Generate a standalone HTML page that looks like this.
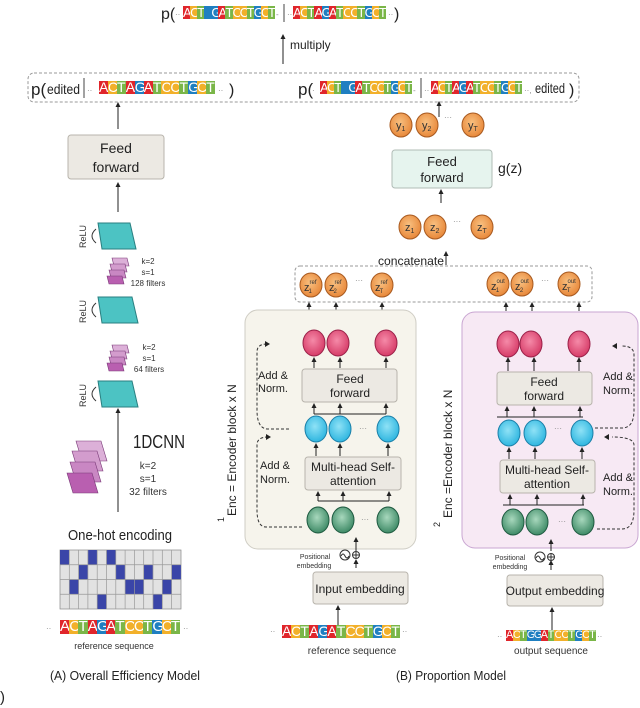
<!DOCTYPE html>
<html><head><meta charset="utf-8"><style>
body{margin:0;background:#fff;}
#w{position:relative;width:640px;height:708px;overflow:hidden;font-family:"Liberation Sans Narrow","Liberation Sans",sans-serif;}
.seq{position:absolute;display:flex;}
.seq span{flex:1;color:#fff;text-align:center;overflow:hidden;font-family:"Liberation Sans Narrow","Liberation Sans",sans-serif;}
.A{background:#e0252b}.C{background:#f2b02a}.T{background:#7ab648}.G{background:#1f7fc1}
svg{position:absolute;left:0;top:0}
</style></head><body><div id="w">
<svg width="640" height="708" viewBox="0 0 640 708" font-family="Liberation Sans Narrow, Liberation Sans, sans-serif">
<defs>
<marker id="ar" markerWidth="6" markerHeight="6" refX="3" refY="3" orient="auto"><path d="M0,0.5 L5,3 L0,5.5 z" fill="#222"/></marker>
<radialGradient id="go" cx="0.45" cy="0.4" r="0.6"><stop offset="0" stop-color="#f8c080"/><stop offset="1" stop-color="#e8883a"/></radialGradient>
<radialGradient id="gr" cx="0.45" cy="0.4" r="0.6"><stop offset="0" stop-color="#f58aa8"/><stop offset="1" stop-color="#d63c68"/></radialGradient>
<radialGradient id="gc" cx="0.45" cy="0.4" r="0.6"><stop offset="0" stop-color="#8fe2f6"/><stop offset="1" stop-color="#2fb6e0"/></radialGradient>
<radialGradient id="gg" cx="0.45" cy="0.4" r="0.6"><stop offset="0" stop-color="#a8d8bd"/><stop offset="1" stop-color="#3e8a66"/></radialGradient>
</defs>
<text x="161" y="19" font-size="16" fill="#222">p(</text>
<text x="175" y="17" font-size="8" fill="#888">··</text>
<line x1="284" y1="4" x2="284" y2="22" stroke="#444"/>
<text x="276" y="17" font-size="8" fill="#888">-</text><text x="287" y="17" font-size="8" fill="#888">··</text>
<text x="388" y="17" font-size="8" fill="#888">··</text>
<text x="394" y="19" font-size="16" fill="#222">)</text>
<line x1="283" y1="64" x2="283" y2="36" stroke="#222" marker-end="url(#ar)"/>
<text x="290" y="49" font-size="12" fill="#222">multiply</text>
<rect x="28" y="73" width="551" height="29" rx="6" fill="none" stroke="#999" stroke-dasharray="3,2"/>
<text x="31" y="95" font-size="17" fill="#222">p(</text>
<text x="47" y="94" font-size="14" fill="#222" textLength="33" lengthAdjust="spacingAndGlyphs">edited</text>
<line x1="84" y1="78" x2="84" y2="98" stroke="#444"/>
<text x="87" y="93" font-size="8" fill="#888">··</text>
<text x="218" y="93" font-size="8" fill="#888">··</text>
<text x="229" y="95" font-size="16" fill="#222">)</text>
<text x="298" y="95" font-size="17" fill="#222">p(</text>
<text x="312" y="93" font-size="8" fill="#888">·</text>
<text x="413" y="93" font-size="8" fill="#888">-</text>
<line x1="421" y1="78" x2="421" y2="98" stroke="#444"/>
<text x="424" y="93" font-size="8" fill="#888">··</text>
<text x="524" y="93" font-size="8" fill="#888">··,</text>
<text x="535" y="93" font-size="14" fill="#222" textLength="30" lengthAdjust="spacingAndGlyphs">edited</text>
<text x="569" y="95" font-size="16" fill="#222">)</text>
<line x1="118" y1="129" x2="118" y2="104" stroke="#222" marker-end="url(#ar)"/>
<rect x="68" y="135" width="96" height="44" rx="3" fill="#ece9e3" stroke="#b8b4ac"/>
<text x="116" y="153" font-size="14" text-anchor="middle" fill="#222">Feed</text>
<text x="116" y="172" font-size="14" text-anchor="middle" fill="#222">forward</text>
<line x1="118" y1="212" x2="118" y2="184" stroke="#222" marker-end="url(#ar)"/>
<polygon points="98,223 130,223 136,249 102,249" fill="#4cc3c3" stroke="#2a7f80"/>
<polygon points="98,297 132,297 138,323 102,323" fill="#4cc3c3" stroke="#2a7f80"/>
<polygon points="98,381 132,381 138,407 102,407" fill="#4cc3c3" stroke="#2a7f80"/>
<g font-size="9" fill="#333">
<text transform="translate(86,248) rotate(-90)">ReLU</text>
<text transform="translate(86,323) rotate(-90)">ReLU</text>
<text transform="translate(86,407) rotate(-90)">ReLU</text>
</g>
<path d="M96,229 Q88,236 96,243" fill="none" stroke="#333"/>
<path d="M96,303 Q88,310 96,317" fill="none" stroke="#333"/>
<path d="M96,387 Q88,394 96,401" fill="none" stroke="#333"/>
<g stroke="#7a3a78" stroke-width="0.6">
<polygon points="112,258 127,258 129,266 114,266" fill="#dcb0d8"/>
<polygon points="110,264 125,264 127,272 112,272" fill="#d39ccd"/>
<polygon points="109,270 124,270 126,278 111,278" fill="#c987c3"/>
<polygon points="107,276 122,276 124,284 109,284" fill="#b95fb0"/>
<polygon points="112,345 127,345 129,353 114,353" fill="#dcb0d8"/>
<polygon points="110,351 125,351 127,359 112,359" fill="#d39ccd"/>
<polygon points="109,357 124,357 126,365 111,365" fill="#c987c3"/>
<polygon points="107,363 122,363 124,371 109,371" fill="#b95fb0"/>
<polygon points="76,441 101,441 107,461 82,461" fill="#dcb0d8"/>
<polygon points="72,451 97,451 103,471 78,471" fill="#d39ccd"/>
<polygon points="70,462 95,462 101,482 76,482" fill="#c987c3"/>
<polygon points="67,473 92,473 98,493 73,493" fill="#b95fb0"/>
</g>
<g font-size="8" fill="#333" text-anchor="middle">
<text x="148" y="264">k=2</text><text x="148" y="275">s=1</text><text x="148" y="286">128 filters</text>
<text x="149" y="350">k=2</text><text x="149" y="361">s=1</text><text x="149" y="372">64 filters</text>
</g>
<line x1="118" y1="512" x2="118" y2="410" stroke="#222" marker-end="url(#ar)"/>
<text x="133" y="448" font-size="18" fill="#222" textLength="52" lengthAdjust="spacingAndGlyphs">1DCNN</text>
<g font-size="10" fill="#333" text-anchor="middle"><text x="148" y="469">k=2</text><text x="148" y="482">s=1</text><text x="148" y="495">32 filters</text></g>
<text x="68" y="540" font-size="15" fill="#222" textLength="104" lengthAdjust="spacingAndGlyphs">One-hot encoding</text>
<rect x="60" y="550" width="121" height="59" fill="#e2e2e2" stroke="#888" stroke-width="0.7"/>
<g fill="#3a45a8">
<rect x="60" y="550" width="9.3" height="14.75"/><rect x="87.9" y="550" width="9.3" height="14.75"/><rect x="106.5" y="550" width="9.3" height="14.75"/>
<rect x="78.6" y="564.75" width="9.3" height="14.75"/><rect x="115.8" y="564.75" width="9.3" height="14.75"/><rect x="143.7" y="564.75" width="9.3" height="14.75"/><rect x="171.6" y="564.75" width="9.3" height="14.75"/>
<rect x="69.3" y="579.5" width="9.3" height="14.75"/><rect x="125.1" y="579.5" width="18.6" height="14.75"/><rect x="162.3" y="579.5" width="9.3" height="14.75"/>
<rect x="97.2" y="594.25" width="9.3" height="14.75"/><rect x="153" y="594.25" width="9.3" height="14.75"/>
</g>
<g stroke="#999" stroke-width="0.7" fill="none">
<path d="M69.3,550V609M78.6,550V609M87.9,550V609M97.2,550V609M106.5,550V609M115.8,550V609M125.1,550V609M134.4,550V609M143.7,550V609M153,550V609M162.3,550V609M171.6,550V609M60,564.75H181M60,579.5H181M60,594.25H181"/>
</g>
<text x="46" y="631" font-size="8" fill="#888">··</text><text x="183" y="631" font-size="8" fill="#888">··</text>
<text x="114" y="649" font-size="9" text-anchor="middle" fill="#333">reference sequence</text>
<text x="50" y="680" font-size="13" fill="#222" textLength="150" lengthAdjust="spacingAndGlyphs">(A) Overall Efficiency Model</text>
<text x="396" y="680" font-size="13" fill="#222" textLength="110" lengthAdjust="spacingAndGlyphs">(B) Proportion Model</text>
<text x="0" y="702" font-size="15" fill="#222">)</text>
<line x1="439" y1="117" x2="439" y2="103" stroke="#222" marker-end="url(#ar)"/>
<g stroke="#a85a20" stroke-width="1" fill="url(#go)">
<ellipse cx="401" cy="125" rx="11" ry="12"/><ellipse cx="427" cy="125" rx="11" ry="12"/><ellipse cx="473" cy="125" rx="11" ry="12"/>
<ellipse cx="410" cy="227" rx="11" ry="12"/><ellipse cx="435" cy="227" rx="11" ry="12"/><ellipse cx="482" cy="227" rx="11" ry="12"/>
<ellipse cx="311" cy="285" rx="11" ry="12"/><ellipse cx="336" cy="285" rx="11" ry="12"/><ellipse cx="382" cy="285" rx="11" ry="12"/>
<ellipse cx="498" cy="284" rx="11" ry="12"/><ellipse cx="522" cy="284" rx="11" ry="12"/><ellipse cx="569" cy="284" rx="11" ry="12"/>
</g>
<g font-size="11" fill="#333">
<text x="396" y="129">y<tspan font-size="7" dy="2">1</tspan></text><text x="422" y="129">y<tspan font-size="7" dy="2">2</tspan></text><text x="468" y="129">y<tspan font-size="7" dy="2">T</tspan></text>
<text x="405" y="231">z<tspan font-size="7" dy="2">1</tspan></text><text x="430" y="231">z<tspan font-size="7" dy="2">2</tspan></text><text x="477" y="231">z<tspan font-size="7" dy="2">T</tspan></text>
<text x="304" y="291">z<tspan font-size="6" dy="-7">ref</tspan><tspan font-size="6" dx="-8" dy="9">1</tspan></text>
<text x="329" y="291">z<tspan font-size="6" dy="-7">ref</tspan><tspan font-size="6" dx="-8" dy="9">2</tspan></text>
<text x="375" y="291">z<tspan font-size="6" dy="-7">ref</tspan><tspan font-size="6" dx="-8" dy="9">T</tspan></text>
<text x="491" y="290">z<tspan font-size="6" dy="-7">out</tspan><tspan font-size="6" dx="-9" dy="9">1</tspan></text>
<text x="515" y="290">z<tspan font-size="6" dy="-7">out</tspan><tspan font-size="6" dx="-9" dy="9">2</tspan></text>
<text x="562" y="290">z<tspan font-size="6" dy="-7">out</tspan><tspan font-size="6" dx="-9" dy="9">T</tspan></text>
</g>
<g font-size="8" fill="#888"><text x="444" y="120">···</text><text x="453" y="224">···</text><text x="355" y="283">···</text><text x="541" y="283">···</text></g>
<line x1="441" y1="203" x2="441" y2="191" stroke="#222" marker-end="url(#ar)"/>
<rect x="392" y="150" width="100" height="38" rx="3" fill="#e6f4ee" stroke="#b0bcb6"/>
<text x="442" y="166" font-size="13" text-anchor="middle" fill="#222">Feed</text>
<text x="442" y="182" font-size="13" text-anchor="middle" fill="#222">forward</text>
<text x="498" y="173" font-size="14" fill="#222">g(z)</text>
<text x="378" y="265" font-size="12" fill="#222" textLength="66" lengthAdjust="spacingAndGlyphs">concatenate</text>
<line x1="446" y1="265" x2="446" y2="253" stroke="#222" marker-end="url(#ar)"/>
<rect x="295" y="266" width="297" height="36" rx="5" fill="none" stroke="#999" stroke-dasharray="3,2"/>
<g stroke="#222" marker-end="url(#ar)">
<line x1="309" y1="311" x2="309" y2="304"/><line x1="336" y1="311" x2="336" y2="304"/><line x1="382" y1="311" x2="382" y2="304"/>
<line x1="506" y1="311" x2="506" y2="304"/><line x1="532" y1="311" x2="532" y2="304"/><line x1="579" y1="311" x2="579" y2="304"/>
</g>
<rect x="245" y="310" width="171" height="239" rx="13" fill="#f6f4ec" stroke="#cfcdc4"/>
<rect x="462" y="312" width="176" height="236" rx="13" fill="#f7e9f4" stroke="#c9a6d2"/>
<g stroke="#222" fill="none">
<line x1="314" y1="414" x2="386" y2="414"/><line x1="318" y1="501" x2="389" y2="501"/>
<line x1="497" y1="417" x2="583" y2="417"/><line x1="503" y1="505" x2="584" y2="505"/>
</g>
<g stroke="#222" marker-end="url(#ar)">
<line x1="314" y1="414" x2="314" y2="405"/><line x1="340" y1="414" x2="340" y2="405"/><line x1="386" y1="414" x2="386" y2="405"/>
<line x1="314" y1="368" x2="314" y2="359"/><line x1="340" y1="368" x2="340" y2="359"/><line x1="386" y1="368" x2="386" y2="359"/>
<line x1="316" y1="456" x2="316" y2="445"/><line x1="340" y1="456" x2="340" y2="445"/><line x1="388" y1="456" x2="388" y2="445"/>
<line x1="318" y1="501" x2="318" y2="493"/><line x1="343" y1="501" x2="343" y2="493"/><line x1="389" y1="501" x2="389" y2="493"/>
<line x1="508" y1="371" x2="508" y2="359"/><line x1="534" y1="371" x2="534" y2="359"/><line x1="579" y1="371" x2="579" y2="359"/>
<line x1="507" y1="417" x2="507" y2="408"/><line x1="534" y1="417" x2="534" y2="408"/><line x1="580" y1="417" x2="580" y2="408"/>
<line x1="509" y1="459" x2="509" y2="449"/><line x1="535" y1="459" x2="535" y2="449"/><line x1="582" y1="459" x2="582" y2="449"/>
<line x1="510" y1="505" x2="510" y2="496"/><line x1="537" y1="505" x2="537" y2="496"/><line x1="583" y1="505" x2="583" y2="496"/>
<line x1="356" y1="551" x2="356" y2="539"/><line x1="356" y1="568" x2="356" y2="561"/>
<line x1="551" y1="551" x2="551" y2="541"/><line x1="551" y1="570" x2="551" y2="562"/>
<line x1="338" y1="625" x2="338" y2="607"/><line x1="552" y1="630" x2="552" y2="609"/>
</g>
<rect x="302" y="369" width="95" height="33" rx="3" fill="#ece9e3" stroke="#b8b4ac"/>
<text x="350" y="383" font-size="12" text-anchor="middle" fill="#222">Feed</text><text x="350" y="397" font-size="12" text-anchor="middle" fill="#222">forward</text>
<rect x="305" y="457" width="96" height="33" rx="3" fill="#ece9e3" stroke="#b8b4ac"/>
<text x="353" y="471" font-size="12" text-anchor="middle" fill="#222">Multi-head Self-</text><text x="353" y="485" font-size="12" text-anchor="middle" fill="#222">attention</text>
<rect x="497" y="372" width="95" height="33" rx="3" fill="#ece9e3" stroke="#b8b4ac"/>
<text x="544" y="386" font-size="12" text-anchor="middle" fill="#222">Feed</text><text x="544" y="400" font-size="12" text-anchor="middle" fill="#222">forward</text>
<rect x="500" y="460" width="95" height="33" rx="3" fill="#ece9e3" stroke="#b8b4ac"/>
<text x="547" y="474" font-size="12" text-anchor="middle" fill="#222">Multi-head Self-</text><text x="547" y="488" font-size="12" text-anchor="middle" fill="#222">attention</text>
<g stroke="#9a2048" fill="url(#gr)">
<ellipse cx="314" cy="343" rx="11" ry="13"/><ellipse cx="338" cy="343" rx="11" ry="13"/><ellipse cx="386" cy="343" rx="11" ry="13"/>
<ellipse cx="508" cy="344" rx="11" ry="13"/><ellipse cx="531" cy="344" rx="11" ry="13"/><ellipse cx="579" cy="344" rx="11" ry="13"/>
</g>
<g stroke="#1a7fa8" fill="url(#gc)">
<ellipse cx="316" cy="429" rx="11" ry="13"/><ellipse cx="340" cy="429" rx="11" ry="13"/><ellipse cx="388" cy="429" rx="11" ry="13"/>
<ellipse cx="509" cy="433" rx="11" ry="13"/><ellipse cx="535" cy="433" rx="11" ry="13"/><ellipse cx="582" cy="433" rx="11" ry="13"/>
</g>
<g stroke="#1e5a40" fill="url(#gg)">
<ellipse cx="318" cy="520" rx="11" ry="13"/><ellipse cx="343" cy="520" rx="11" ry="13"/><ellipse cx="388" cy="520" rx="11" ry="13"/>
<ellipse cx="513" cy="522" rx="11" ry="13"/><ellipse cx="537" cy="522" rx="11" ry="13"/><ellipse cx="583" cy="522" rx="11" ry="13"/>
</g>
<g font-size="8" fill="#888"><text x="359" y="431">···</text><text x="361" y="522">···</text><text x="554" y="431">···</text><text x="558" y="524">···</text></g>
<g stroke="#333" fill="none" stroke-dasharray="3,2">
<path d="M289,429 H268 Q257,429 257,410 V352 Q257,344 267,344"/>
<path d="M302,527 H266 Q257,527 257,510 V445 Q257,437 268,437"/>
<path d="M595,428 H622 Q634,428 634,410 V355 Q634,346 622,346"/>
<path d="M597,529 H622 Q634,529 634,510 V445 Q634,437 612,437"/>
</g>
<g fill="#222"><path d="M270,341 L265,344 L270,347z" transform="rotate(180 267.5 344)"/><path d="M271,434 L266,437 L271,440z" transform="rotate(180 268.5 437)"/><path d="M617,343 L612,346 L617,349z"/><path d="M609,434 L604,437 L609,440z"/></g>
<g font-size="11" fill="#222">
<text x="258" y="379">Add &amp;</text><text x="258" y="392">Norm.</text>
<text x="260" y="469">Add &amp;</text><text x="260" y="483">Norm.</text>
<text x="603" y="380">Add &amp;</text><text x="603" y="394">Norm.</text>
<text x="603" y="481">Add &amp;</text><text x="603" y="495">Norm.</text>
</g>
<text transform="translate(236,516) rotate(-90)" font-size="12" fill="#222" font-family="Liberation Sans, sans-serif">Enc = Encoder block x N</text>
<text transform="translate(224,522) rotate(-90)" font-size="9" fill="#222">1</text>
<text transform="translate(452,518) rotate(-90)" font-size="12" fill="#222" font-family="Liberation Sans, sans-serif">Enc =Encoder block x N</text>
<text transform="translate(440,527) rotate(-90)" font-size="9" fill="#222">2</text>
<g font-size="7" fill="#333" text-anchor="middle"><text x="315" y="559">Positional</text><text x="314" y="568">embedding</text><text x="510" y="560">Positional</text><text x="510" y="569">embedding</text></g>
<g stroke="#333" fill="none"><circle cx="345" cy="555" r="5"/><path d="M341,556 q2,-4 4,0 q2,4 4,0"/><circle cx="356" cy="555" r="3.5"/><path d="M352.5,555h7M356,551.5v7"/>
<circle cx="540" cy="557" r="5"/><path d="M536,558 q2,-4 4,0 q2,4 4,0"/><circle cx="551" cy="557" r="3.5"/><path d="M547.5,557h7M551,553.5v7"/></g>
<rect x="313" y="572" width="95" height="32" rx="3" fill="#ece9e3" stroke="#b8b4ac"/>
<text x="360" y="593" font-size="12" text-anchor="middle" fill="#222">Input embedding</text>
<rect x="507" y="575" width="96" height="31" rx="3" fill="#ece9e3" stroke="#b8b4ac"/>
<text x="555" y="595" font-size="12" text-anchor="middle" fill="#222">Output embedding</text>
<text x="270" y="634" font-size="8" fill="#888">··</text><text x="402" y="634" font-size="8" fill="#888">··</text>
<text x="352" y="654" font-size="10" text-anchor="middle" fill="#333">reference sequence</text>
<text x="497" y="639" font-size="8" fill="#888">··</text><text x="597" y="639" font-size="8" fill="#888">··</text>
<text x="551" y="654" font-size="10" text-anchor="middle" fill="#333">output sequence</text>
</svg>
<div class="seq" style="left:183px;top:6px;width:92px;height:13px;font-size:13px;line-height:13px"><span class="A">A</span><span class="C">C</span><span class="T">T</span><span class="G"></span><span class="G">G</span><span class="A">A</span><span class="T">T</span><span class="C">C</span><span class="C">C</span><span class="T">T</span><span class="G">G</span><span class="C">C</span><span class="T">T</span></div>
<div class="seq" style="left:293px;top:6px;width:93px;height:13px;font-size:13px;line-height:13px"><span class="A">A</span><span class="C">C</span><span class="T">T</span><span class="A">A</span><span class="G">G</span><span class="A">A</span><span class="T">T</span><span class="C">C</span><span class="C">C</span><span class="T">T</span><span class="G">G</span><span class="C">C</span><span class="T">T</span></div>
<div class="seq" style="left:99px;top:81px;width:116px;height:13px;font-size:14px;line-height:13px"><span class="A">A</span><span class="C">C</span><span class="T">T</span><span class="A">A</span><span class="G">G</span><span class="A">A</span><span class="T">T</span><span class="C">C</span><span class="C">C</span><span class="T">T</span><span class="G">G</span><span class="C">C</span><span class="T">T</span></div>
<div class="seq" style="left:320px;top:81px;width:92px;height:13px;font-size:13px;line-height:13px"><span class="A">A</span><span class="C">C</span><span class="T">T</span><span class="G"></span><span class="G">G</span><span class="A">A</span><span class="T">T</span><span class="C">C</span><span class="C">C</span><span class="T">T</span><span class="G">G</span><span class="C">C</span><span class="T">T</span></div>
<div class="seq" style="left:431px;top:81px;width:91px;height:13px;font-size:13px;line-height:13px"><span class="A">A</span><span class="C">C</span><span class="T">T</span><span class="A">A</span><span class="G">G</span><span class="A">A</span><span class="T">T</span><span class="C">C</span><span class="C">C</span><span class="T">T</span><span class="G">G</span><span class="C">C</span><span class="T">T</span></div>
<div class="seq" style="left:60px;top:620px;width:120px;height:14px;font-size:15px;line-height:14px"><span class="A">A</span><span class="C">C</span><span class="T">T</span><span class="A">A</span><span class="G">G</span><span class="A">A</span><span class="T">T</span><span class="C">C</span><span class="C">C</span><span class="T">T</span><span class="G">G</span><span class="C">C</span><span class="T">T</span></div>
<div class="seq" style="left:282px;top:625px;width:118px;height:13px;font-size:14px;line-height:13px"><span class="A">A</span><span class="C">C</span><span class="T">T</span><span class="A">A</span><span class="G">G</span><span class="A">A</span><span class="T">T</span><span class="C">C</span><span class="C">C</span><span class="T">T</span><span class="G">G</span><span class="C">C</span><span class="T">T</span></div>
<div class="seq" style="left:506px;top:630px;width:90px;height:11px;font-size:11px;line-height:11px"><span class="A">A</span><span class="C">C</span><span class="T">T</span><span class="G">G</span><span class="G">G</span><span class="A">A</span><span class="T">T</span><span class="C">C</span><span class="C">C</span><span class="T">T</span><span class="G">G</span><span class="C">C</span><span class="T">T</span></div>
</div></body></html>
